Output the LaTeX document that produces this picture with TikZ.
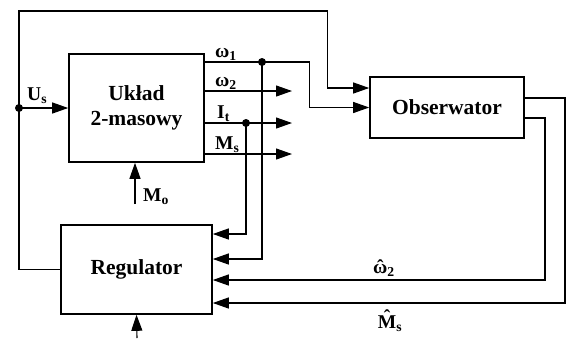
\documentclass[tikz,border=0pt]{standalone}
\usepackage{fontspec}
\setmainfont{Liberation Serif}
\usetikzlibrary{arrows.meta,positioning,calc}
\newcommand{\daszek}[2]{{\ooalign{#2\cr\hidewidth\raisebox{#1}{ˆ}\hidewidth\cr}}}

\begin{document}
\begin{tikzpicture}[
    x=1pt, y=-1pt,
    blok/.style={draw, line width=1.6pt, align=center, font=\fontsize{21.5}{25}\selectfont\bfseries},
    strz/.style={-{Triangle[length=16pt,width=11pt]}, line width=1.1pt},
    linia/.style={line width=1.1pt},
    kropka/.style={circle, fill, inner sep=0pt, minimum size=8pt},
    etyk/.style={font=\fontsize{19.5}{21}\selectfont\bfseries, inner sep=0pt}
  ]
    \useasboundingbox (0,0) rectangle (567,338);
    \node[blok, minimum width=135pt, minimum height=108pt] (uklad) at (136.5,108) {Układ\\2-masowy};
    \node[blok, minimum width=154pt, minimum height=61pt] (obs) at (447,107.5) {Obserwator};
    \node[blok, minimum width=151pt, minimum height=89pt] (reg) at (136.5,269.5) {Regulator};
    \coordinate (us) at (19,108);
    \coordinate (gora) at (19,11);
    \coordinate (w1) at (262,62);
    \coordinate (it) at (246,123);
    \coordinate (mo) at (135,204);
    \coordinate (dol) at (137,338);
    \coordinate (obsA) at ($(obs.west)+(0,-19.5)$);
    % wyjscia ukladu
    \foreach \y/\n in {91/w2k,123/itk,154/msk} {
      \coordinate (\n) at (292,\y);
      \draw[strz] (uklad.east |- \n) -- (\n);
    }
    \draw[linia] (uklad.east |- w1) -- (w1);
    \draw[strz] (w1) -| ($(obs.west)+(-60,0)$) -- (obs.west);
    \draw[strz] (reg.west) -| (us) -- (gora) -| ($(obsA)+(-42,0)$) -- (obsA);
    \draw[strz] (us) -- (uklad.west);
    \draw[strz] (mo) -- (mo |- uklad.south);
    \draw[strz] (dol) -- (reg.south);
    % sprzezenia do regulatora
    \draw[strz] (it) |- ($(reg.east)+(0,-35.5)$);
    \draw[strz] (w1) |- ($(reg.east)+(0,-10.5)$);
    \draw[strz] ($(obs.east)+(0,10.5)$) -| (545,280) -- ($(reg.east)+(0,10.5)$);
    \draw[strz] ($(obs.east)+(0,-9.5)$) -| (565,303) -- ($(reg.east)+(0,33.5)$);
    \foreach \k in {us,w1,it} \node[kropka] at (\k) {};
    % opisy
    \node[etyk, anchor=base west] (lus) at (27,100) {U\textsubscript{s}};
    \node[etyk, anchor=base west] (lw1) at (215,57) {ω\textsubscript{1}};
    \node[etyk, anchor=base west] (lw2) at (215,86) {ω\textsubscript{2}};
    \node[etyk, anchor=base west] (lit) at (217,118) {I\textsubscript{t}};
    \node[etyk, anchor=base west] (lms) at (215,149) {M\textsubscript{s}};
    \node[etyk, anchor=base west] (lmo) at (143,201) {M\textsubscript{o}};
    \node[etyk, anchor=base] (lw2h) at (384,273) {\daszek{0pt}{ω}\textsubscript{2}};
    \node[etyk, anchor=base] (lmsh) at (390,328) {\daszek{5pt}{M}\textsubscript{s}};
  \end{tikzpicture}
\end{document}
